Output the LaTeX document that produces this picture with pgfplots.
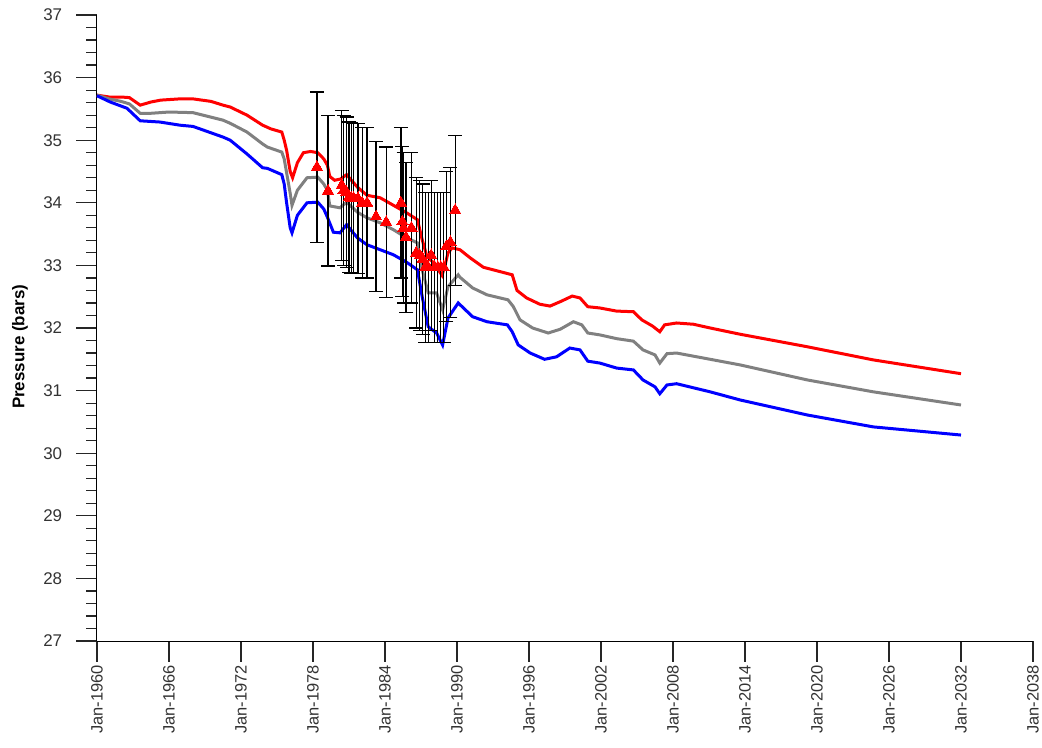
\documentclass[border=0pt]{standalone}
\usepackage{pgfplots}
\pgfplotsset{compat=1.18}
\usepackage{fontspec}
\setmainfont{Liberation Sans}
\definecolor{cgray}{RGB}{128,128,128}
\begin{document}
\fontsize{17}{20}\selectfont
\begin{tikzpicture}
\useasboundingbox (-97bp,-107bp) rectangle (945bp,641bp);
\begin{axis}[
  at={(0,0)}, anchor=south west,
  scale only axis, width=936bp, height=626bp,
  xmin=1960, xmax=2038, ymin=27, ymax=37,
  axis x line*=bottom, axis y line*=left,
  axis line style={black, line width=1bp, -},
  tick align=outside,
  major tick length=21bp, minor tick length=11bp,
  every tick/.style={black!85, line width=1.2bp},
  xtick={1960,1966,...,2038},
  xticklabels={Jan-1960,Jan-1966,Jan-1972,Jan-1978,Jan-1984,Jan-1990,Jan-1996,Jan-2002,Jan-2008,Jan-2014,Jan-2020,Jan-2026,Jan-2032,Jan-2038},
  minor x tick num=5,
  ytick={27,28,...,37}, minor y tick num=4,
  x tick label style={rotate=90, anchor=east, font=\fontsize{16.5}{19}\selectfont, text=black!80, inner xsep=1bp, inner ysep=0pt, xshift=-2bp},
  y tick label style={font=\fontsize{17}{20}\selectfont, text=black!80, xshift=-8bp},
  /pgf/number format/assume math mode=true,
  ylabel={Pressure (bars)},
  ylabel style={font=\fontsize{17}{20}\selectfont\bfseries, at={(axis description cs:-0.0823,0.47)}, anchor=center},
  clip=false,
]
\addplot[red, line width=3bp] coordinates {
(1960.0,35.72) (1961.0,35.69) (1962.0,35.69) (1962.7,35.68) (1963.6,35.56) (1964.5,35.61) (1965.3,35.64) (1966.9,35.66) (1968.0,35.66) (1969.5,35.62) (1970.5,35.56) (1971.1,35.53) (1972.5,35.40) (1973.8,35.24) (1974.5,35.18) (1975.4,35.13) (1975.6,35.0) (1975.8,34.84) (1976.1,34.5) (1976.3,34.40) (1976.7,34.64) (1977.2,34.80) (1977.8,34.82) (1978.4,34.80) (1978.9,34.70) (1979.2,34.60) (1979.4,34.42) (1979.8,34.36) (1980.3,34.38) (1980.8,34.45) (1981.2,34.36) (1981.7,34.25) (1982.5,34.12) (1983.6,34.08) (1984.7,33.96) (1985.8,33.84) (1986.7,33.73) (1987.1,33.41) (1987.5,33.14) (1988.0,33.05) (1988.3,32.97) (1988.75,32.84) (1989.0,33.0) (1989.25,33.2) (1989.6,33.28) (1990.25,33.25) (1991.1,33.12) (1992.2,32.97) (1993.8,32.89) (1994.6,32.85) (1995.0,32.6) (1995.8,32.48) (1996.9,32.38) (1997.75,32.35) (1998.6,32.42) (1999.6,32.51) (2000.25,32.48) (2000.9,32.34) (2001.9,32.32) (2003.3,32.27) (2004.7,32.26) (2005.4,32.13) (2006.3,32.03) (2006.9,31.94) (2007.3,32.05) (2008.3,32.08) (2009.7,32.06) (2011.1,32.00) (2013.6,31.90) (2019.2,31.70) (2024.7,31.49) (2032.0,31.27)
};
\addplot[cgray, line width=3bp] coordinates {
(1960.0,35.72) (1961.0,35.66) (1962.0,35.62) (1962.7,35.58) (1963.6,35.43) (1964.5,35.43) (1966.0,35.45) (1968.0,35.44) (1970.5,35.32) (1971.1,35.27) (1972.5,35.13) (1973.8,34.94) (1974.2,34.89) (1975.4,34.81) (1975.6,34.7) (1975.8,34.48) (1976.1,34.15) (1976.25,33.96) (1976.7,34.2) (1977.5,34.40) (1978.4,34.41) (1978.9,34.30) (1979.2,34.2) (1979.4,33.95) (1980.25,33.92) (1980.8,34.01) (1981.7,33.85) (1982.5,33.76) (1983.6,33.68) (1984.7,33.57) (1985.8,33.44) (1986.7,33.36) (1987.1,32.93) (1987.6,32.56) (1988.3,32.56) (1988.8,32.29) (1989.25,32.66) (1990.1,32.85) (1990.25,32.81) (1991.3,32.64) (1992.5,32.53) (1994.25,32.45) (1994.7,32.34) (1995.25,32.13) (1996.3,32.00) (1997.6,31.92) (1998.6,31.98) (1999.7,32.10) (2000.4,32.05) (2000.9,31.92) (2001.9,31.89) (2003.3,31.83) (2004.7,31.79) (2005.5,31.65) (2006.5,31.57) (2006.9,31.44) (2007.5,31.59) (2008.3,31.60) (2011.1,31.50) (2013.6,31.41) (2019.2,31.17) (2024.7,30.98) (2032.0,30.77)
};
\addplot[blue, line width=3bp] coordinates {
(1960.0,35.71) (1961.1,35.61) (1962.5,35.51) (1963.6,35.31) (1965.25,35.29) (1966.9,35.24) (1968.0,35.22) (1970.5,35.05) (1971.1,35.0) (1972.5,34.78) (1973.8,34.56) (1974.2,34.55) (1975.4,34.45) (1975.6,34.3) (1975.8,34.0) (1976.1,33.6) (1976.25,33.52) (1976.7,33.8) (1977.5,34.0) (1978.4,34.01) (1978.9,33.9) (1979.2,33.77) (1979.7,33.53) (1980.25,33.52) (1980.8,33.65) (1981.7,33.44) (1982.5,33.33) (1983.6,33.25) (1984.7,33.17) (1985.8,33.05) (1986.7,32.93) (1987.1,32.5) (1987.6,32.02) (1988.3,31.92) (1988.8,31.73) (1989.25,32.16) (1990.1,32.40) (1991.3,32.18) (1992.5,32.10) (1994.2,32.05) (1994.6,31.94) (1995.1,31.73) (1996.1,31.60) (1997.3,31.50) (1998.3,31.54) (1999.4,31.68) (2000.25,31.65) (2000.9,31.47) (2001.9,31.44) (2003.3,31.36) (2004.7,31.33) (2005.5,31.17) (2006.5,31.06) (2006.9,30.95) (2007.5,31.09) (2008.3,31.11) (2011.1,30.98) (2013.6,30.85) (2019.2,30.61) (2024.7,30.42) (2032.0,30.29)
};
\addplot[only marks, mark=triangle*, mark size=6.5bp, mark options={fill=red, draw=red, line width=0pt},
  error bars/.cd, y dir=both, y fixed=1.2,
  error bar style={black, line width=1.2bp},
  error mark options={rotate=90, black, line width=1.2bp, mark size=7bp}] coordinates {
(1978.33,34.57) (1979.25,34.19) (1980.4,34.28) (1980.55,34.20) (1980.8,34.17) (1981.0,34.09) (1981.2,34.08) (1981.4,34.07) (1981.75,34.07) (1982.1,34.0) (1982.5,34.0) (1983.25,33.78) (1984.1,33.69) (1985.33,34.0) (1985.45,33.7) (1985.55,33.6) (1985.75,33.45) (1986.2,33.6) (1986.6,33.2) (1986.9,33.16) (1987.15,33.1) (1987.35,32.97) (1987.6,32.97) (1987.85,33.16) (1988.15,32.97) (1988.4,32.97) (1988.65,32.97) (1988.9,32.97) (1989.1,33.3) (1989.45,33.37) (1989.85,33.88)
};
\end{axis}
\end{tikzpicture}
\end{document}
